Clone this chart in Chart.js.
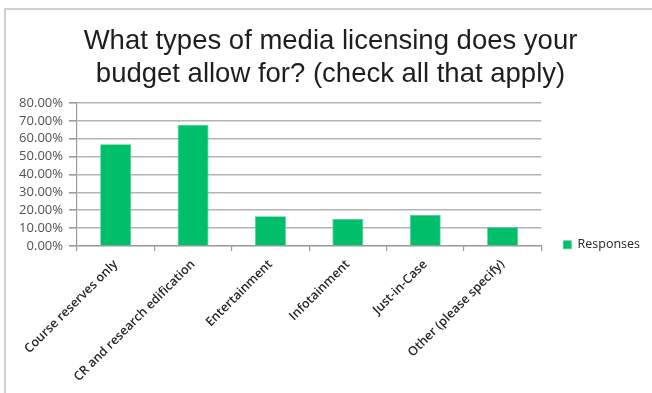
<!DOCTYPE html>
<html>
<head>
<meta charset="utf-8">
<script src="https://cdn.jsdelivr.net/npm/chart.js@4/dist/chart.umd.min.js"></script>
<style>
  html, body { margin: 0; padding: 0; background: #fff; }
  #frame {
    position: absolute; left: 4px; top: 8px;
    width: 648px; height: 385px;
    border-left: 2px solid #cfcfcf; border-top: 2px solid #cfcfcf;
  }
  #wrap { position: absolute; left: 0; top: 0; width: 646px; height: 383px; }
</style>
</head>
<body>
<div id="frame"><div id="wrap"><canvas id="c"></canvas></div></div>
<script>
const titleLines = ['What types of media licensing does your', 'budget allow for? (check all that apply)'];
const categories = ['Course reserves only', 'CR and research edification', 'Entertainment', 'Infotainment', 'Just-in-Case', 'Other (please specify)'];
const seriesName = 'Responses';
const responses = [56.9, 67.8, 16.7, 15.1, 17.4, 10.5];
const yTicks = [0, 10, 20, 30, 40, 50, 60, 70, 80];

const green = '#00BF6B';
const gridGray = '#b4b4b4';
const axisGray = '#9a9a9a';
const labelFont = 'Open Sans, sans-serif';

// Keep the legend entry level with the lower part of the plot, just above the axis line.
const legendNearAxis = {
  id: 'legendNearAxis',
  afterLayout(chart) {
    const lg = chart.legend;
    if (!lg) return;
    lg.top = chart.chartArea.top;
    lg.bottom = chart.chartArea.bottom + 27;
  }
};

new Chart(document.getElementById('c'), {
  type: 'bar',
  data: {
    labels: categories,
    datasets: [{
      label: seriesName,
      data: responses,
      backgroundColor: green,
      borderColor: '#3fd08f',
      borderWidth: 0.8,
      barPercentage: 0.4,
      categoryPercentage: 1.0
    }]
  },
  plugins: [legendNearAxis],
  options: {
    responsive: true,
    maintainAspectRatio: false,
    animation: false,
    layout: { padding: { left: 5, right: 2, top: 0, bottom: 7 } },
    plugins: {
      title: {
        display: true,
        text: titleLines,
        color: '#1e1e1e',
        font: { family: '"Liberation Sans", Arial, sans-serif', size: 27.5, weight: 'normal', lineHeight: 1.2 },
        padding: { top: 15, bottom: 12 }
      },
      legend: {
        display: true,
        position: 'right',
        align: 'end',
        labels: {
          boxWidth: 8,
          boxHeight: 8,
          padding: 22,
          color: '#262626',
          font: { family: labelFont, size: 12.5 }
        }
      },
      tooltip: { enabled: false }
    },
    scales: {
      y: {
        min: 0,
        max: 80,
        afterBuildTicks: (scale) => { scale.ticks = yTicks.map(v => ({ value: v })); },
        afterFit: (scale) => { scale.width = 66; },
        ticks: {
          autoSkip: false,
          color: '#505050',
          padding: 6,
          font: { family: labelFont, size: 13 },
          callback: (v) => v.toFixed(2) + '%'
        },
        grid: { color: gridGray, lineWidth: 1.6, tickLength: 8, tickColor: axisGray },
        border: { display: true, color: axisGray, width: 1.2 }
      },
      x: {
        offset: true,
        afterFit: (scale) => { scale.height = 140; },
        ticks: {
          autoSkip: false,
          color: '#262626',
          maxRotation: 45,
          minRotation: 45,
          padding: 6,
          font: { family: labelFont, size: 12.5, weight: '600' }
        },
        grid: { offset: true, drawOnChartArea: false, drawTicks: true, tickLength: 5, tickColor: axisGray, lineWidth: 1.2 },
        border: { display: true, color: axisGray, width: 1.2 }
      }
    }
  }
});
</script>
</body>
</html>
